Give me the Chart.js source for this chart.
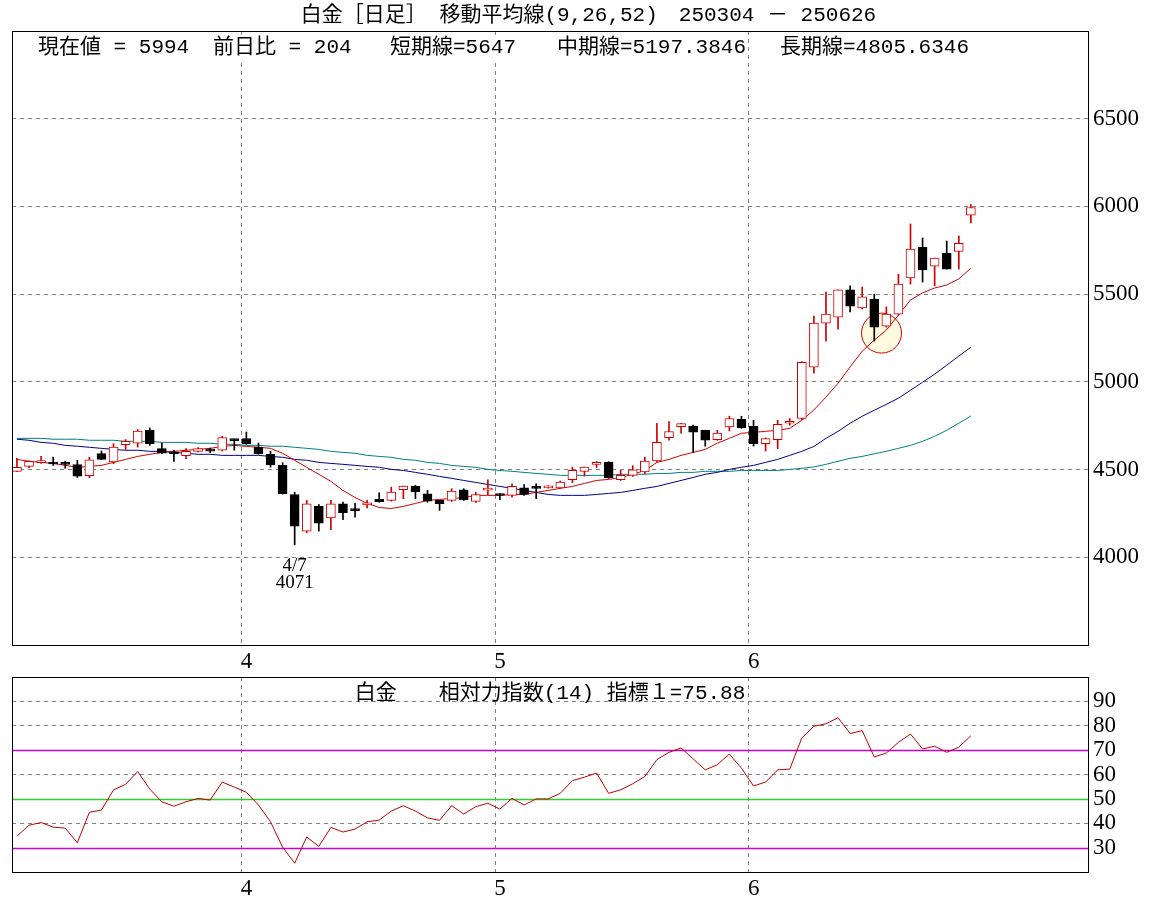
<!DOCTYPE html>
<html><head><meta charset="utf-8">
<script src="https://cdn.jsdelivr.net/npm/chart.js@4.4.1/dist/chart.umd.min.js"></script>
<style>
html,body{margin:0;padding:0;background:#fff;}
#wrap{position:relative;width:1171px;height:902px;background:#fff;}
#c1{position:absolute;left:0;top:0;}
#c2{position:absolute;left:0;top:676px;}
</style></head><body>
<div id="wrap"><canvas id="c1" width="1171" height="676"></canvas><canvas id="c2" width="1171" height="226"></canvas></div>
<script>
// ---------------- data ----------------
const dates = ['3/4','3/5','3/6','3/7','3/10','3/11','3/12','3/13','3/14','3/17','3/18','3/19','3/21','3/24','3/25','3/26','3/27','3/28','3/31',
'4/1','4/2','4/3','4/4','4/7','4/8','4/9','4/10','4/11','4/14','4/15','4/16','4/17','4/18','4/21','4/22','4/23','4/24','4/25','4/28','4/30',
'5/1','5/2','5/6','5/7','5/8','5/9','5/12','5/13','5/14','5/15','5/16','5/19','5/20','5/21','5/22','5/23','5/26','5/27','5/28','5/29','5/30',
'6/2','6/3','6/4','6/5','6/6','6/9','6/10','6/11','6/12','6/13','6/16','6/17','6/18','6/19','6/20','6/23','6/24','6/25','6/26'];
const opens  = [4490,4518,4540,4538,4536,4528,4465,4591,4543,4642,4651,4724,4619,4594,4579,4604,4612,4610,4671,
4677,4628,4587,4524,4358,4149,4290,4225,4305,4272,4299,4330,4324,4385,4404,4362,4324,4324,4385,4318,4383,
4362,4352,4396,4398,4396,4396,4442,4490,4530,4541,4442,4467,4486,4549,4682,4745,4747,4724,4671,4743,4787,
4747,4648,4671,4764,4791,5084,5335,5369,5524,5421,5472,5318,5386,5592,5768,5660,5734,5744,5950];
const highs  = [4564,4550,4575,4571,4547,4552,4570,4606,4648,4671,4728,4737,4651,4610,4619,4625,4623,4690,4673,
4714,4651,4604,4539,4371,4324,4301,4324,4314,4307,4324,4368,4400,4406,4410,4381,4324,4391,4391,4371,4442,
4362,4419,4415,4419,4408,4435,4514,4514,4545,4545,4495,4522,4571,4764,4774,4764,4753,4724,4724,4804,4804,
4781,4680,4781,4791,5115,5375,5512,5524,5547,5541,5500,5427,5614,5900,5820,5706,5803,5832,6010];
const lows   = [4488,4510,4535,4524,4507,4455,4454,4556,4534,4615,4628,4638,4591,4547,4562,4600,4596,4606,4610,
4644,4587,4514,4360,4071,4139,4149,4157,4215,4229,4282,4314,4320,4334,4334,4314,4267,4318,4324,4312,4357,
4328,4343,4352,4334,4394,4394,4425,4463,4512,4450,4438,4461,4476,4543,4667,4707,4598,4633,4667,4720,4735,
4634,4606,4619,4753,4785,5050,5232,5301,5398,5415,5232,5312,5380,5557,5569,5548,5643,5643,5906];
const closes = [4513,4547,4545,4532,4530,4463,4556,4558,4628,4661,4720,4648,4594,4590,4604,4619,4605,4682,4665,
4648,4591,4528,4362,4177,4305,4194,4305,4254,4266,4311,4317,4371,4406,4374,4320,4305,4377,4328,4358,4389,
4352,4404,4358,4393,4404,4428,4495,4514,4539,4454,4467,4499,4549,4655,4717,4762,4713,4667,4708,4791,4737,
4648,4677,4758,4772,5111,5335,5386,5524,5432,5484,5312,5386,5557,5757,5638,5706,5643,5790,5994];
const ma9  = [4558,4547,4541,4535,4524,4513,4518,4524,4541,4558,4575,4587,4598,4604,4610,4615,4621,4632,4638,
4632,4627,4621,4593,4553,4513,4473,4433,4381,4341,4307,4284,4278,4290,4307,4324,4330,4335,4341,4353,4353,
4353,4358,4358,4370,4381,4393,4404,4421,4438,4444,4455,4473,4495,4541,4558,4581,4598,4615,4650,4678,4707,
4712,4718,4724,4735,4781,4840,4913,4992,5085,5175,5238,5295,5381,5467,5507,5535,5552,5587,5647];
const ma26 = [4673,4667,4655,4650,4638,4633,4627,4621,4615,4610,4610,4604,4604,4598,4593,4587,4587,4581,4581,
4581,4581,4575,4570,4558,4553,4541,4535,4530,4524,4518,4513,4501,4495,4484,4473,4461,4450,4438,4427,4415,
4404,4393,4381,4370,4358,4353,4353,4353,4358,4364,4370,4381,4393,4404,4421,4438,4455,4473,4484,4501,4513,
4524,4541,4558,4581,4604,4632,4678,4718,4764,4804,4838,4872,4907,4952,4998,5044,5095,5147,5197.3846];
const ma52 = [4678,4678,4678,4673,4673,4673,4667,4667,4667,4661,4661,4661,4655,4655,4655,4650,4650,4644,4644,
4638,4638,4633,4633,4627,4621,4615,4604,4598,4593,4581,4575,4570,4558,4553,4541,4535,4524,4518,4513,4501,
4495,4490,4484,4478,4473,4467,4467,4467,4467,4467,4473,4473,4473,4478,4478,4484,4484,4490,4490,4490,4495,
4495,4495,4495,4501,4507,4515,4530,4547,4564,4575,4590,4604,4621,4638,4661,4690,4724,4764,4805.6346];
const rsi  = [34.7,39.2,40.3,38.4,38,32,44.5,45.4,53.7,56,61.2,54,48.8,47,48.8,50.2,49.5,56.9,54.8,
52.7,47.5,40.6,30.2,23.6,34.4,30.5,38.3,36.4,37.6,40.6,41.3,45,47.2,45,42.2,41.2,47.2,43.8,46.8,48.2,
45.8,50.2,47.5,50,50,52.3,57.5,58.9,60.6,52.3,53.7,56.2,59.2,66.1,69.1,70.9,66.4,61.9,64,68.4,62.6,
55.3,56.9,61.9,62.2,75,79.8,80.8,83.3,76.8,78,67.2,68.8,73.2,76.6,70.5,71.6,69.1,71.2,75.88];
const priceTicks = [4000,4500,5000,5500,6000,6500];
const rsiTicks = [30,40,50,60,70,80,90];
const rsiRefLevels = [30,50,70];
const crossMarker = {index: 71.6, value: 5278};   // highlighted circle (data coordinates)

// ---------------- styles ----------------
const AXIS_FONT = '"Liberation Serif", serif';
const TEXT_FONT = '"Liberation Mono", "Noto Sans CJK JP", monospace';
const RED = '#d00000';
const NAVY = '#000080';
const TEAL = '#008080';
const GRID = '#808080';
const X_MIN = -0.41, X_MAX = 88.7, GRID_SHIFT = 0.4;
Chart.defaults.font.family = AXIS_FONT;
Chart.defaults.color = '#000';

const idx = dates.map((d, i) => i);
const monthOf = d => d.split('/')[0];
const monthStarts = idx.filter(i => i > 0 && monthOf(dates[i]) !== monthOf(dates[i - 1]));
const monthLabels = monthStarts.map(i => monthOf(dates[i]));
const isUp = i => closes[i] >= opens[i];
const n = dates.length;

function noPad(s) { s.paddingTop = 0; s.paddingBottom = 0; s.paddingLeft = 0; s.paddingRight = 0; }

function xScaleCfg(h) {
  return {
    type: 'linear', min: X_MIN, max: X_MAX, offset: false,
    afterBuildTicks: s => { s.ticks = monthStarts.map(i => ({value: i - GRID_SHIFT})); },
    afterFit: s => { s.height = h; noPad(s); },
    ticks: {autoSkip: false, maxRotation: 0, padding: 3, labelOffset: 5,
      font: {size: 23}, color: '#000', callback: (v, k) => monthLabels[k]},
    grid: {color: GRID, lineWidth: 1, drawTicks: false, offset: false},
    border: {display: false, dash: [4, 4]}
  };
}
function yScaleCfg(min, max, tickVals, gridColor) {
  return {
    type: 'linear', position: 'right', min: min, max: max,
    afterBuildTicks: s => { s.ticks = tickVals.map(v => ({value: v})); },
    afterFit: s => { s.width = 83; noPad(s); },
    ticks: {padding: 5, font: {size: 23}, color: '#000', callback: v => String(v)},
    grid: {color: gridColor, drawTicks: false},
    border: {display: false, dash: [4, 4]}
  };
}

function frame(chart) {
  const {ctx, chartArea: a} = chart;
  ctx.save();
  ctx.strokeStyle = '#000'; ctx.lineWidth = 1; ctx.setLineDash([]);
  ctx.strokeRect(Math.round(a.left) + 0.5, Math.round(a.top) + 0.5, Math.round(a.right - a.left), Math.round(a.bottom - a.top));
  ctx.restore();
}

// ---------------- main chart ----------------
const mainPlugin = {
  id: 'mainDeco',
  beforeDatasetsDraw(chart) {
    const {ctx, scales: {x, y}} = chart;
    ctx.save();
    ctx.beginPath();
    ctx.arc(x.getPixelForValue(crossMarker.index), y.getPixelForValue(crossMarker.value), 20, 0, Math.PI * 2);
    ctx.fillStyle = '#fffbe0'; ctx.fill();
    ctx.strokeStyle = RED; ctx.lineWidth = 1; ctx.stroke();
    ctx.restore();
  },
  afterDraw(chart) {
    const {ctx, chartArea: a, scales: {x, y}} = chart;
    frame(chart);
    ctx.save();
    ctx.fillStyle = '#000';
    ctx.textBaseline = 'middle';
    ctx.font = '21px ' + TEXT_FONT;
    ctx.textAlign = 'center';
    ctx.fillText('白金［日足］ 移動平均線(9,26,52)　250304 － 250626', chart.width / 2 + 3, 15);
    // header values
    const items = [
      '現在値 = ' + closes[n - 1],
      '前日比 = ' + (closes[n - 1] - closes[n - 2]),
      '短期線=' + ma9[n - 1],
      '中期線=' + ma26[n - 1],
      '長期線=' + ma52[n - 1]
    ];
    const offs = [26, 201, 378, 545, 768];
    ctx.textAlign = 'left';
    items.forEach((t, k) => {
      const w = ctx.measureText(t).width;
      ctx.fillStyle = '#fff';
      ctx.fillRect(a.left + offs[k] - 2, a.top + 4, w + 4, 25);
      ctx.fillStyle = '#000';
      ctx.fillText(t, a.left + offs[k], a.top + 16);
    });
    // lowest low annotation
    const lo = Math.min(...lows);
    const li = lows.indexOf(lo);
    const px = x.getPixelForValue(li), py = y.getPixelForValue(lo);
    ctx.textAlign = 'center';
    ctx.font = '19px ' + AXIS_FONT;
    ctx.fillText(dates[li], px, py + 21);
    ctx.fillText(String(lo), px, py + 38);
    ctx.restore();
  }
};

new Chart(document.getElementById('c1'), {
  type: 'bar',
  data: {
    datasets: [
      {type: 'line', data: idx.map(i => ({x: i, y: ma52[i]})), borderColor: TEAL, borderWidth: 1, pointRadius: 0, tension: 0, order: 7},
      {type: 'line', data: idx.map(i => ({x: i, y: ma26[i]})), borderColor: NAVY, borderWidth: 1, pointRadius: 0, tension: 0, order: 6},
      {type: 'line', data: idx.map(i => ({x: i, y: ma9[i]})), borderColor: RED, borderWidth: 1, pointRadius: 0, tension: 0, order: 5},
      {type: 'bar', data: idx.map(i => ({x: i, y: [lows[i], highs[i]]})), barThickness: 1, grouped: false,
        backgroundColor: c => isUp(c.dataIndex) ? RED : '#000', borderWidth: 0, order: 3},
      {type: 'bar', data: idx.map(i => ({x: i, y: [opens[i], closes[i]]})), barThickness: 9, grouped: false,
        minBarLength: 2, borderSkipped: false,
        backgroundColor: c => isUp(c.dataIndex) ? '#fff' : '#000',
        borderColor: c => isUp(c.dataIndex) ? RED : '#000', borderWidth: 1, order: 2}
    ]
  },
  options: {
    responsive: false, animation: false, devicePixelRatio: 1,
    layout: {padding: {left: 12, top: 31, right: 0, bottom: 0}},
    plugins: {legend: {display: false}, tooltip: {enabled: false}, title: {display: false}},
    scales: {
      x: xScaleCfg(31),
      y: yScaleCfg(3500, 7000, priceTicks, GRID)
    }
  },
  plugins: [mainPlugin]
});

// ---------------- RSI chart ----------------
const rsiPlugin = {
  id: 'rsiDeco',
  beforeDatasetsDraw(chart) {
    const {ctx, chartArea: a, scales: {y}} = chart;
    ctx.save();
    ctx.lineWidth = 1.5;
    rsiRefLevels.forEach(v => {
      ctx.strokeStyle = v === 50 ? '#33cc33' : '#cc00cc';
      const py = Math.round(y.getPixelForValue(v)) + 0.5;
      ctx.beginPath(); ctx.moveTo(a.left, py); ctx.lineTo(a.right, py); ctx.stroke();
    });
    ctx.restore();
  },
  afterDraw(chart) {
    const {ctx, chartArea: a} = chart;
    frame(chart);
    ctx.save();
    ctx.fillStyle = '#000';
    ctx.font = '21px ' + TEXT_FONT;
    ctx.textAlign = 'center'; ctx.textBaseline = 'middle';
    ctx.fillText('白金　　相対力指数(14) 指標１=' + rsi[n - 1].toFixed(2), (a.left + a.right) / 2, a.top + 16);
    ctx.restore();
  }
};

new Chart(document.getElementById('c2'), {
  type: 'line',
  data: {
    datasets: [
      {data: idx.map(i => ({x: i, y: rsi[i]})), borderColor: '#c00000', borderWidth: 1, pointRadius: 0, tension: 0}
    ]
  },
  options: {
    responsive: false, animation: false, devicePixelRatio: 1,
    layout: {padding: {left: 12, top: 1, right: 0, bottom: 0}},
    plugins: {legend: {display: false}, tooltip: {enabled: false}},
    scales: {
      x: xScaleCfg(30),
      y: yScaleCfg(20, 100, rsiTicks, c => rsiRefLevels.includes(c.tick && c.tick.value) ? 'rgba(0,0,0,0)' : GRID)
    }
  },
  plugins: [rsiPlugin]
});
</script>
</body></html>
